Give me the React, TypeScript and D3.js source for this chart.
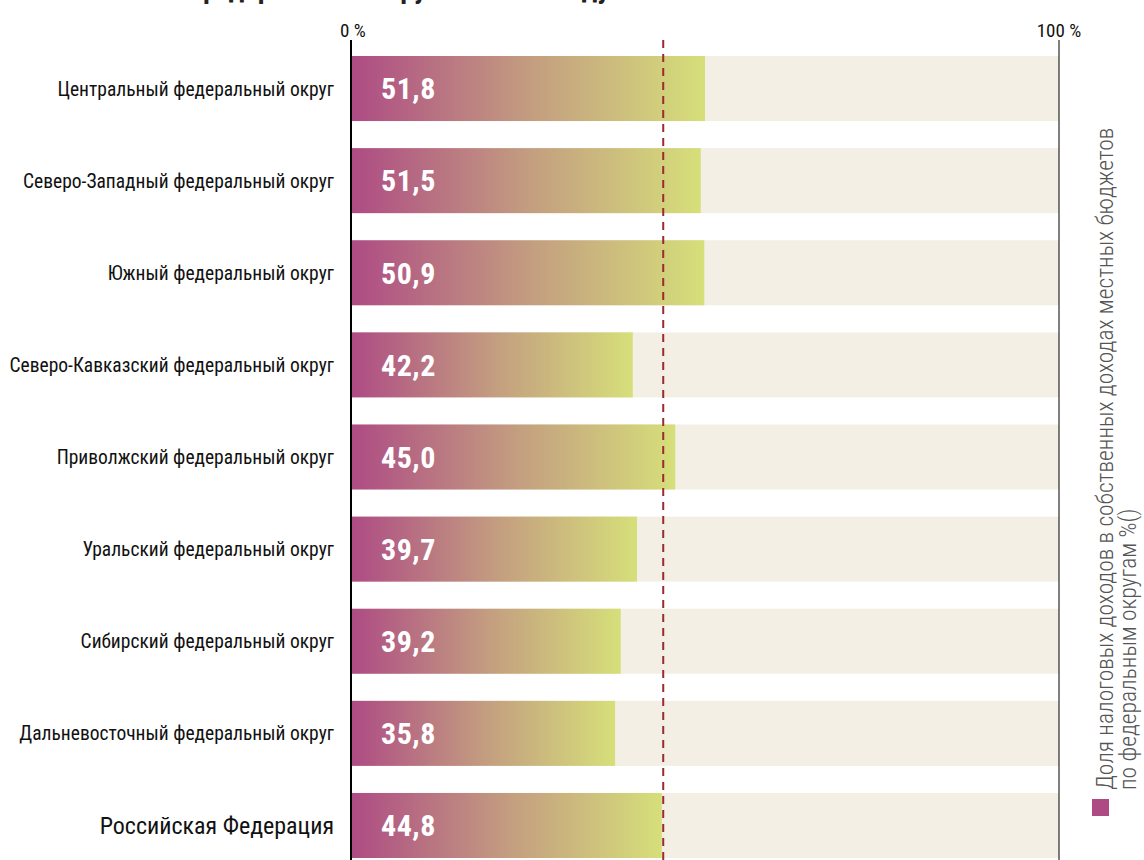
import React from "react";
import * as d3 from "d3";

const categories = [
  "Центральный федеральный округ",
  "Северо-Западный федеральный округ",
  "Южный федеральный округ",
  "Северо-Кавказский федеральный округ",
  "Приволжский федеральный округ",
  "Уральский федеральный округ",
  "Сибирский федеральный округ",
  "Дальневосточный федеральный округ",
  "Российская Федерация",
];
// printed values
const labelValues = [51.8, 51.5, 50.9, 42.2, 45.0, 39.7, 39.2, 35.8, 44.8];
// bar lengths as drawn in the picture (%)
const barValues = [50.0, 49.4, 49.9, 39.8, 45.8, 40.4, 38.1, 37.3, 43.9];
const averageValue = 44.1;
const axisTicks = [0, 100];
const legendLines = [
  "Доля налоговых доходов в собственных доходах местных бюджетов",
  "по федеральным округам %()",
];
const titleText = "по федеральным округам в 2019 году";

const W = 1144, H = 860;
const FONT = "'Roboto Condensed', 'Liberation Sans Narrow', 'DejaVu Sans Condensed', Roboto, sans-serif";

export default function App() {
  const x = d3.scaleLinear().domain([0, 100]).range([351, 1059]);
  const y = d3.scaleBand<string>().domain(categories).range([56, 858]).paddingInner(0.294).paddingOuter(0);
  const fmt = (v: number) => d3.format(".1f")(v).replace(".", ",");
  const last = categories[categories.length - 1];

  return (
    <svg width={W} height={H} style={{ position: "absolute", left: 0, top: 0, background: "#fff" }}>
      <defs>
        <linearGradient id="barGrad" x1="0" x2="1" y1="0" y2="0">
          <stop offset="0" stopColor="#ae4b84" />
          <stop offset="0.5" stopColor="#c39c80" />
          <stop offset="1" stopColor="#d6df7a" />
        </linearGradient>
      </defs>
      <text x={163} y={-2} fontFamily={FONT} fontWeight="bold" fontSize={28} fill="#222">{titleText}</text>

      {categories.map((c, i) => (
        <g key={c}>
          <rect x={x(0)} y={y(c)} width={x(100) - x(0)} height={y.bandwidth()} fill="#f3efe4" />
          <rect x={x(0)} y={y(c)} width={x(barValues[i]) - x(0)} height={y.bandwidth()} fill="url(#barGrad)" />
          <text x={x(0) + 30} y={y(c)! + y.bandwidth() / 2} dy="0.36em" fontFamily={FONT} fontWeight="bold"
            fontSize={30} fill="#fff" letterSpacing={0.5}>{fmt(labelValues[i])}</text>
          <text x={334} y={y(c)! + y.bandwidth() / 2} dy="0.36em" textAnchor="end" fontFamily={FONT}
            fontSize={c === last ? 24 : 19.5} fill="#111">{c}</text>
        </g>
      ))}

      <line x1={x(averageValue)} x2={x(averageValue)} y1={40} y2={H} stroke="#9b2b2f" strokeWidth={2} strokeDasharray="8 6" />
      <line x1={x(0)} x2={x(0)} y1={40} y2={H} stroke="#000" strokeWidth={2} />
      <line x1={x(100)} x2={x(100)} y1={40} y2={H} stroke="#000" strokeWidth={1} />
      {axisTicks.map(t => (
        <text key={t} x={x(t) + (t === 0 ? 2 : 0)} y={37} textAnchor="middle" fontFamily={FONT} fontSize={19} fill="#111">{`${t} %`}</text>
      ))}

      <rect x={1092} y={799} width={17} height={17} fill="#ae4b84" />
      {legendLines.map((l, i) => (
        <text key={i} transform={`translate(${1113 + i * 23},790) rotate(-90)`} fontFamily={FONT} fontWeight={300}
          fontSize={23.5} fill="#555">{l}</text>
      ))}
    </svg>
  );
}
